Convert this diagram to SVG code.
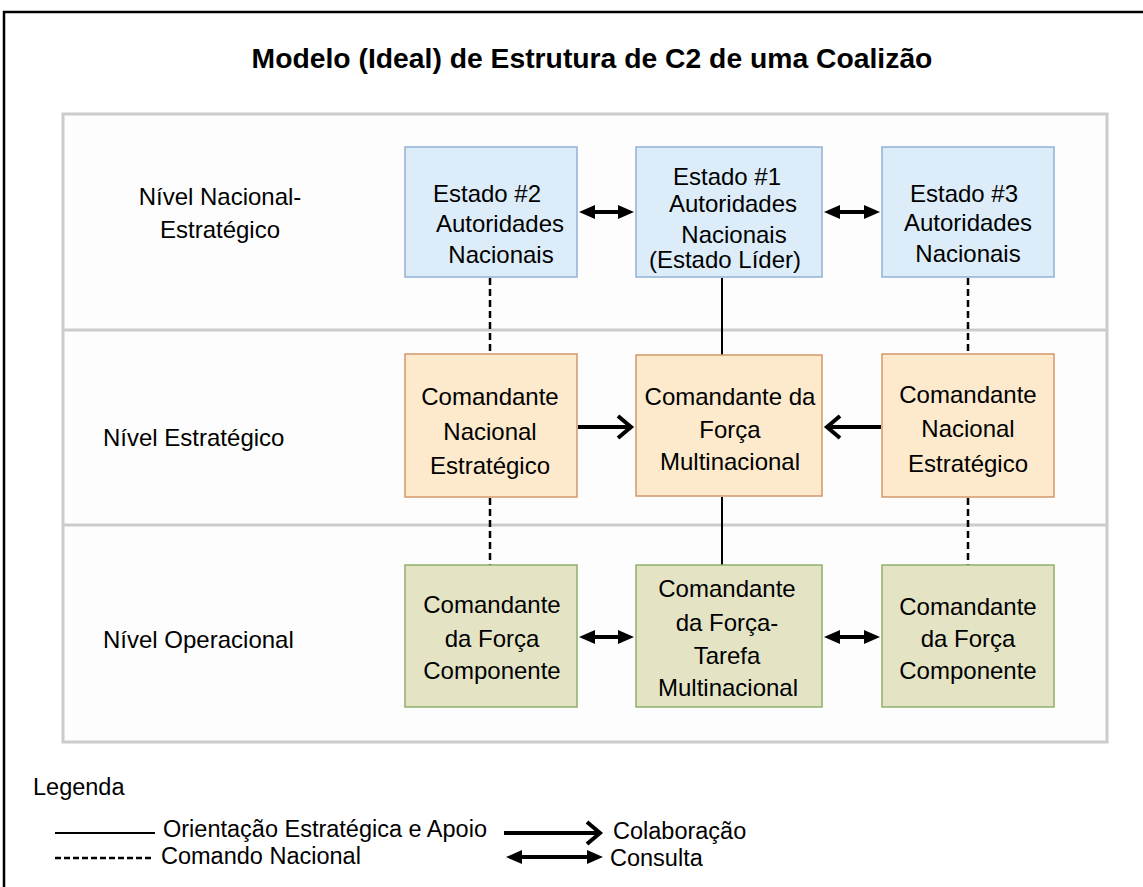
<svg xmlns="http://www.w3.org/2000/svg" width="1143" height="887" viewBox="0 0 1143 887">
<defs>
<style>
text{font-family:"Liberation Sans",Arial,sans-serif;fill:#000}
.t{font-size:24px;text-anchor:middle}
.l{font-size:24px}
.lg{font-size:23.5px}
.title{font-size:28.3px;font-weight:bold;text-anchor:middle}
.blue{fill:#dcedf9;stroke:#93afd4;stroke-width:1.5}
.orange{fill:#fde9cb;stroke:#d3976a;stroke-width:1.5}
.green{fill:#e4e4c5;stroke:#8dae6a;stroke-width:1.5}
.solid{stroke:#000;stroke-width:2;fill:none}
.dash{stroke:#000;stroke-width:2.5;stroke-dasharray:7,4;fill:none}
.dbl{stroke:#000;stroke-width:4;fill:none;marker-start:url(#tri);marker-end:url(#tri)}
.one{stroke:#000;stroke-width:4;fill:none;marker-end:url(#chev)}
</style>
<marker id="tri" markerUnits="userSpaceOnUse" viewBox="0 0 16 14" refX="0" refY="7" markerWidth="16" markerHeight="14" orient="auto-start-reverse">
<path d="M0,0 L16,7 L0,14 z" fill="#000"/>
</marker>
<marker id="chev" markerUnits="userSpaceOnUse" viewBox="-18 -14 24 28" refX="0" refY="0" markerWidth="24" markerHeight="28" orient="auto">
<path d="M-13,-11 L0,0 L-13,11" fill="none" stroke="#000" stroke-width="4"/>
</marker>
</defs>
<rect width="1143" height="887" fill="#fff"/>
<path d="M4,887 V12 H1143" fill="none" stroke="#000" stroke-width="2.5"/>
<text class="title" x="592" y="68">Modelo (Ideal) de Estrutura de C2 de uma Coalizão</text>

<g id="panel">
<rect x="63" y="114" width="1044" height="628" fill="#fdfdfd" stroke="#c9cbcd" stroke-width="3"/>
<line x1="63" y1="330" x2="1107" y2="330" stroke="#c9cbcd" stroke-width="3"/>
<line x1="63" y1="525" x2="1107" y2="525" stroke="#c9cbcd" stroke-width="3"/>
</g>

<g id="level-labels">
<text class="t" x="220" y="205">Nível Nacional-</text>
<text class="t" x="220" y="238">Estratégico</text>
<text class="l" x="103" y="446">Nível Estratégico</text>
<text class="l" x="103" y="648">Nível Operacional</text>
</g>

<g id="connectors">
<line class="dash" x1="490" y1="278" x2="490" y2="354"/>
<line class="solid" x1="722" y1="278" x2="722" y2="355"/>
<line class="dash" x1="968" y1="278" x2="968" y2="354"/>
<line class="dash" x1="490" y1="498" x2="490" y2="565"/>
<line class="solid" x1="722" y1="497" x2="722" y2="565"/>
<line class="dash" x1="968" y1="498" x2="968" y2="565"/>
<line class="dbl" x1="595" y1="212" x2="618" y2="212"/>
<line class="dbl" x1="840" y1="212" x2="864" y2="212"/>
<line class="one" x1="578" y1="427" x2="631" y2="427"/>
<line class="one" x1="881" y1="427" x2="827" y2="427"/>
<line class="dbl" x1="595" y1="637" x2="618" y2="637"/>
<line class="dbl" x1="840" y1="637" x2="864" y2="637"/>
</g>

<g id="estado2">
<rect class="blue" x="405" y="147" width="172" height="130"/>
<text class="t" x="487" y="202">Estado #2</text>
<text class="t" x="500" y="232">Autoridades</text>
<text class="t" x="501" y="263">Nacionais</text>
</g>
<g id="estado1">
<rect class="blue" x="636" y="147" width="186" height="130"/>
<text class="t" x="727" y="185">Estado #1</text>
<text class="t" x="733" y="212">Autoridades</text>
<text class="t" x="734" y="243">Nacionais</text>
<text class="t" x="725" y="268">(Estado Líder)</text>
</g>
<g id="estado3">
<rect class="blue" x="882" y="147" width="172" height="130"/>
<text class="t" x="964" y="202">Estado #3</text>
<text class="t" x="968" y="231">Autoridades</text>
<text class="t" x="968" y="262">Nacionais</text>
</g>

<g id="cmd-nac-estr-left">
<rect class="orange" x="405" y="354" width="172" height="143"/>
<text class="t" x="490" y="405">Comandante</text>
<text class="t" x="490" y="440">Nacional</text>
<text class="t" x="490" y="474">Estratégico</text>
</g>
<g id="cmd-forca-multi">
<rect class="orange" x="636" y="355" width="186" height="141"/>
<text class="t" x="730" y="405">Comandante da</text>
<text class="t" x="730" y="438">Força</text>
<text class="t" x="730" y="470">Multinacional</text>
</g>
<g id="cmd-nac-estr-right">
<rect class="orange" x="882" y="354" width="172" height="143"/>
<text class="t" x="968" y="403">Comandante</text>
<text class="t" x="968" y="437">Nacional</text>
<text class="t" x="968" y="472">Estratégico</text>
</g>

<g id="cmd-comp-left">
<rect class="green" x="405" y="565" width="172" height="142"/>
<text class="t" x="492" y="613">Comandante</text>
<text class="t" x="492" y="647">da Força</text>
<text class="t" x="492" y="679">Componente</text>
</g>
<g id="cmd-ftm">
<rect class="green" x="636" y="565" width="186" height="142"/>
<text class="t" x="727" y="597">Comandante</text>
<text class="t" x="727" y="631">da Força-</text>
<text class="t" x="727" y="664">Tarefa</text>
<text class="t" x="728" y="696">Multinacional</text>
</g>
<g id="cmd-comp-right">
<rect class="green" x="882" y="565" width="172" height="142"/>
<text class="t" x="968" y="615">Comandante</text>
<text class="t" x="968" y="647">da Força</text>
<text class="t" x="968" y="679">Componente</text>
</g>

<g id="legend">
<text class="lg" x="33" y="795">Legenda</text>
<line class="solid" x1="55" y1="833" x2="155" y2="833"/>
<text class="lg" x="163" y="837">Orientação Estratégica e Apoio</text>
<line class="one" x1="504" y1="833" x2="600" y2="833"/>
<text class="lg" x="613" y="839">Colaboração</text>
<line class="dash" x1="55" y1="858" x2="153" y2="858" style="stroke-dasharray:6,3"/>
<text class="lg" x="161" y="864">Comando Nacional</text>
<line class="dbl" x1="522" y1="857" x2="587" y2="857"/>
<text class="lg" x="610" y="866">Consulta</text>
</g>
</svg>
